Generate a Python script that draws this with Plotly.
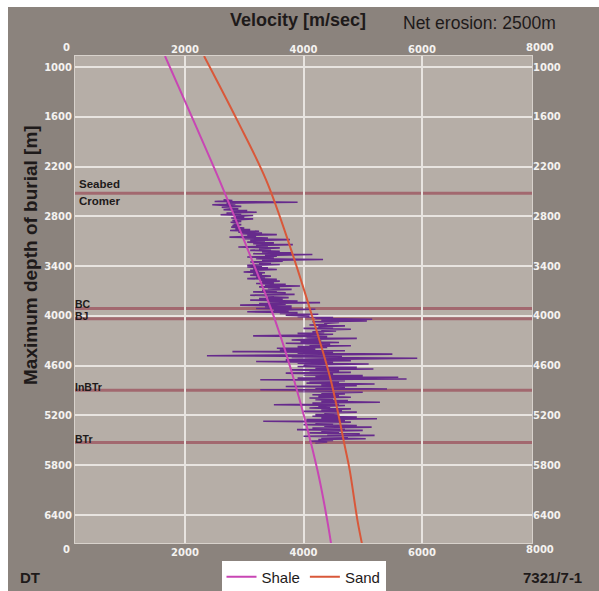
import plotly.graph_objects as go

# ---------------- data ----------------
x_range = [143, 7857]
x_ticks = [2000, 4000, 6000]
x_edge_ticks = [0, 8000]
y_range = [6737, 867]
y_ticks = [1000, 1600, 2200, 2800, 3400, 4000, 4600, 5200, 5800, 6400]

shale_depth = [867, 1640, 2362, 3200, 4050, 4773, 5858, 6461, 6738]
shale_vel = [1662, 2140, 2580, 3060, 3520, 3840, 4235, 4400, 4464]

sand_depth = [867, 1640, 2362, 3200, 4013, 4773, 5580, 5858, 6461, 6738]
sand_vel = [2321, 2880, 3370, 3790, 4150, 4460, 4700, 4780, 4910, 4985]

# DT log (velocity, m/s), sampled every 10 m from 2600 m
dt_top = 2600
dt_step = 10
dt_vel = [
    2650, 2800, 2500, 3900, 2700, 2850, 2460, 2780, 2950, 2620,
    2750, 2900, 2650, 3050, 2800, 3210, 2700, 2950, 2600, 3150,
    2850, 3000, 2780, 3150, 2900, 2800, 2950, 2770, 2900, 2820,
    2950, 2800, 2900, 2780, 3000, 2850, 3100, 2760, 3250, 2900,
    3300, 2950, 3550, 3050, 3200, 2750, 3400, 3000, 3770, 3100,
    3350, 3050, 3500, 3150, 3820, 3200, 3400, 2900, 3600, 3250,
    3450, 3100, 3600, 3300, 3800, 3150, 4150, 3350, 3550, 3050,
    3500, 3200, 4330, 3300, 3650, 3100, 3450, 3250, 3600, 3050,
    3300, 3050, 3400, 3150, 3550, 3100, 3250, 2990, 3350, 3150,
    3300, 3100, 3450, 3200, 3350, 3050, 3550, 3250, 3600, 3300,
    3500, 3200, 3700, 3350, 3940, 3250, 3600, 3400, 3800, 3300,
    3550, 3150, 3700, 3350, 3850, 3100, 3500, 3400, 3750, 3250,
    3650, 3100, 3900, 3400, 4280, 3250, 3700, 2930, 3800, 3350,
    3800, 3200, 4200, 3500, 3750, 3050, 3900, 3600, 4250, 3700,
    4100, 3900, 4500, 4200, 5160, 4300, 5070, 4150, 4600, 4350,
    4400, 4100, 4700, 4250, 4500, 4000, 4800, 4300, 4550, 4150,
    4350, 3900, 4500, 4100, 3150, 4400, 4050, 4900, 4200, 3800,
    4300, 3950, 4600, 3700, 4450, 4100, 4800, 3900, 4400, 3550,
    4200, 3600, 4700, 2800, 4500, 3900, 5500, 4100, 2370, 4650,
    3800, 5920, 4300, 3700, 4800, 3200, 4500, 3900, 5100, 4000,
    4400, 3900, 4900, 4200, 5180, 3800, 4600, 4100, 4800, 3700,
    4500, 4000, 5000, 4200, 5600, 3900, 5740, 3270, 4700, 4100,
    4600, 4050, 5200, 4300, 4900, 3700, 4700, 4200, 5410, 3270,
    4500, 3900, 5000, 4300, 4700, 4150, 4600, 4250, 4800, 4100,
    4500, 4200, 4750, 4300, 5290, 4150, 4600, 3500, 4700, 4250,
    4450, 4100, 4800, 4300, 4650, 4000, 4900, 4350, 4600, 4200,
    4600, 4150, 4900, 4300, 5240, 4050, 4700, 3320, 4800, 4200,
    4500, 4000, 4900, 4350, 5150, 4150, 4700, 3890, 5000, 4300,
    4600, 4100, 4950, 4400, 5200, 4000, 4750, 4300, 5050, 4250,
    4500, 4100, 4400, 4200,
]
dt_depth = [dt_top + dt_step * i for i in range(len(dt_vel))]

fm_names = ["Seabed", "Cromer", "BC", "BJ", "InBTr", "BTr"]
fm_depth = [2520, 2520, 3910, 4035, 4895, 5525]
fm_has_line = [True, False, True, True, True, True]

# ---------------- styling ----------------
W, H = 599, 591
ML, MR, MT, MB = 75, 67, 56, 48
DARK = "#8b837d"
PLOT_BG = "#b6aea7"
GRID = "#e8e4e0"
TICK_COLOR = "#f4f2f0"
SHALE_C = "#c846b4"
SAND_C = "#d9583a"
DT_C = "#662a8c"
FM_C = "#a2686f"

pw = W - ML - MR
ph = H - MT - MB

def px_to_paper_x(px):
    return (px - ML) / pw

def px_to_paper_y(py):
    return (H - MB - py) / ph

tickfont = dict(family="DejaVu Sans", size=10, color=TICK_COLOR, weight="bold")

fig = go.Figure()

fig.add_trace(go.Scatter(
    x=dt_vel, y=dt_depth, mode="lines", name="DT",
    line=dict(color=DT_C, width=1.6), showlegend=False, hoverinfo="skip",
    xaxis="x", yaxis="y",
))
fig.add_trace(go.Scatter(
    x=shale_vel, y=shale_depth, mode="lines", name="Shale",
    line=dict(color=SHALE_C, width=2, shape="spline"),
    xaxis="x2", yaxis="y2",
))
fig.add_trace(go.Scatter(
    x=sand_vel, y=sand_depth, mode="lines", name="Sand",
    line=dict(color=SAND_C, width=2, shape="spline"),
    xaxis="x2", yaxis="y2",
))

shapes = []
# white page edges (outside the dark frame)
shapes.append(dict(type="rect", xref="paper", yref="paper",
                   x0=px_to_paper_x(0), x1=px_to_paper_x(8),
                   y0=px_to_paper_y(H), y1=px_to_paper_y(0),
                   fillcolor="white", line=dict(width=0), layer="above"))
shapes.append(dict(type="rect", xref="paper", yref="paper",
                   x0=px_to_paper_x(0), x1=px_to_paper_x(W),
                   y0=px_to_paper_y(7), y1=px_to_paper_y(0),
                   fillcolor="white", line=dict(width=0), layer="above"))

annotations = []
for name, d, has_line in zip(fm_names, fm_depth, fm_has_line):
    if has_line:
        shapes.append(dict(type="line", xref="x domain", yref="y",
                           x0=0, x1=1, y0=d, y1=d,
                           line=dict(color=FM_C, width=3), layer="below"))

label_shift = {"Seabed": 9, "Cromer": -8, "BC": 4, "BJ": 3, "InBTr": 3, "BTr": 3}
label_left = {"Seabed": 77, "Cromer": 77, "BC": 73, "BJ": 73, "InBTr": 73, "BTr": 73}
label_size = {"Seabed": 11.5, "Cromer": 11.5, "BC": 10.5, "BJ": 10.5, "InBTr": 10.5, "BTr": 10.5}
for name, d in zip(fm_names, fm_depth):
    annotations.append(dict(
        text=name, xref="paper", yref="y", x=px_to_paper_x(label_left[name]), y=d,
        xanchor="left", yanchor="middle", yshift=label_shift[name], showarrow=False,
        font=dict(family="Liberation Sans", size=label_size[name], color="#1e1a1a",
                  weight="bold"),
    ))

# edge tick labels (0 and 8000) which lie just outside the plotted range
for v in x_edge_ticks:
    xd = (v - x_range[0]) / (x_range[1] - x_range[0])
    annotations.append(dict(text=str(v), xref="x domain", yref="paper", x=xd, y=1,
                            xanchor="center", yanchor="bottom", yshift=1, showarrow=False,
                            font=tickfont))
    annotations.append(dict(text=str(v), xref="x domain", yref="paper", x=xd, y=0,
                            xanchor="center", yanchor="top", yshift=1, showarrow=False,
                            font=tickfont))

annotations += [
    dict(text="Velocity [m/sec]", xref="paper", yref="paper",
         x=px_to_paper_x(298), y=px_to_paper_y(20), showarrow=False,
         xanchor="center", yanchor="middle",
         font=dict(family="Liberation Sans", size=18, color="#1e1a1a", weight="bold")),
    dict(text="Net erosion: 2500m", xref="paper", yref="paper",
         x=px_to_paper_x(479), y=px_to_paper_y(23), showarrow=False,
         xanchor="center", yanchor="middle",
         font=dict(family="Liberation Sans", size=17.5, color="#1e1a1a")),
    dict(text="Maximum depth of burial [m]", xref="paper", yref="paper",
         x=px_to_paper_x(30), y=px_to_paper_y(255), showarrow=False, textangle=-90,
         xanchor="center", yanchor="middle",
         font=dict(family="Liberation Sans", size=19, color="#1e1a1a", weight="bold")),
    dict(text="DT", xref="paper", yref="paper",
         x=px_to_paper_x(18), y=px_to_paper_y(577), showarrow=False,
         xanchor="left", yanchor="middle",
         font=dict(family="Liberation Sans", size=15, color="#1e1a1a", weight="bold")),
    dict(text="7321/7-1", xref="paper", yref="paper",
         x=px_to_paper_x(584), y=px_to_paper_y(577), showarrow=False,
         xanchor="right", yanchor="middle",
         font=dict(family="Liberation Sans", size=15, color="#1e1a1a", weight="bold")),
]

axis_common = dict(tickfont=tickfont, ticks="", zeroline=False)

fig.update_layout(
    width=W, height=H,
    margin=dict(l=ML, r=MR, t=MT, b=MB, pad=0, autoexpand=False),
    paper_bgcolor=DARK, plot_bgcolor=PLOT_BG,
    xaxis=dict(range=x_range, tickvals=x_ticks, side="bottom", showgrid=True,
               gridcolor=GRID, gridwidth=1.5, showline=True, linecolor="#d8d2cc",
               linewidth=1, mirror=True, **axis_common),
    xaxis2=dict(range=x_range, tickvals=x_ticks, side="top", overlaying="x",
                matches="x", showgrid=False, **axis_common),
    yaxis=dict(range=y_range, tickvals=y_ticks, side="left", showgrid=True,
               gridcolor=GRID, gridwidth=1.5, showline=True, linecolor="#d8d2cc",
               linewidth=1, mirror=True, **axis_common),
    yaxis2=dict(range=y_range, tickvals=y_ticks, side="right", overlaying="y",
                matches="y", showgrid=False, **axis_common),
    shapes=shapes,
    annotations=annotations,
    showlegend=True,
    legend=dict(orientation="h", x=0.5, xanchor="center",
                y=px_to_paper_y(577), yanchor="middle",
                bgcolor="white", borderwidth=0,
                font=dict(family="Liberation Sans", size=15, color="#1e1a1a"),
                itemwidth=30, tracegroupgap=0),
)

fig.write_html("out.html")
